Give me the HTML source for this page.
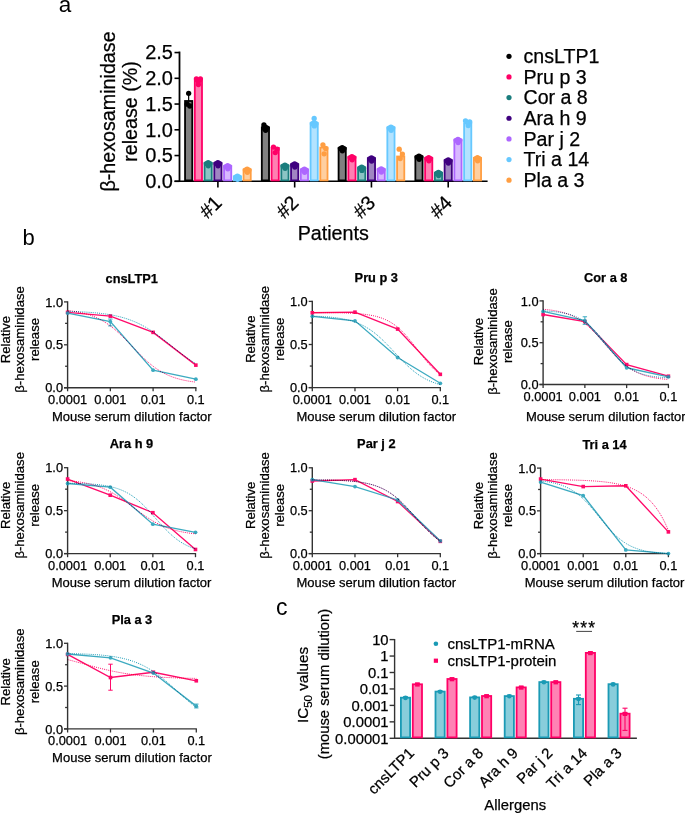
<!DOCTYPE html>
<html><head><meta charset="utf-8"><style>
html,body{margin:0;padding:0;background:#fff;}
svg{display:block;will-change:transform;}
text{font-family:"Liberation Sans", sans-serif;stroke:currentColor;stroke-width:0.25px;}
</style></head><body>
<svg width="685" height="813" viewBox="0 0 685 813">
<rect width="685" height="813" fill="#fff"/>
<text x="58.70" y="12.30" font-size="22.5" text-anchor="start" fill="#000" style="stroke-width:0">a</text>
<text x="22.60" y="245.00" font-size="22" text-anchor="start" fill="#000" style="stroke-width:0">b</text>
<text x="276.00" y="615.10" font-size="23" text-anchor="start" fill="#000" style="stroke-width:0">c</text>
<line x1="179.50" y1="51.55" x2="179.50" y2="182.00" stroke="#000" stroke-width="1.8"/>
<line x1="174.50" y1="181.30" x2="179.50" y2="181.30" stroke="#000" stroke-width="1.6"/>
<text x="173.00" y="188.10" font-size="20" text-anchor="end" fill="#000">0.0</text>
<line x1="174.50" y1="155.55" x2="179.50" y2="155.55" stroke="#000" stroke-width="1.6"/>
<text x="173.00" y="162.35" font-size="20" text-anchor="end" fill="#000">0.5</text>
<line x1="174.50" y1="129.80" x2="179.50" y2="129.80" stroke="#000" stroke-width="1.6"/>
<text x="173.00" y="136.60" font-size="20" text-anchor="end" fill="#000">1.0</text>
<line x1="174.50" y1="104.05" x2="179.50" y2="104.05" stroke="#000" stroke-width="1.6"/>
<text x="173.00" y="110.85" font-size="20" text-anchor="end" fill="#000">1.5</text>
<line x1="174.50" y1="78.30" x2="179.50" y2="78.30" stroke="#000" stroke-width="1.6"/>
<text x="173.00" y="85.10" font-size="20" text-anchor="end" fill="#000">2.0</text>
<line x1="174.50" y1="52.55" x2="179.50" y2="52.55" stroke="#000" stroke-width="1.6"/>
<text x="173.00" y="59.35" font-size="20" text-anchor="end" fill="#000">2.5</text>
<line x1="174.50" y1="181.30" x2="487.60" y2="181.30" stroke="#000" stroke-width="1.5"/>
<line x1="217.90" y1="181.30" x2="217.90" y2="187.50" stroke="#000" stroke-width="1.6"/>
<line x1="294.67" y1="181.30" x2="294.67" y2="187.50" stroke="#000" stroke-width="1.6"/>
<line x1="371.44" y1="181.30" x2="371.44" y2="187.50" stroke="#000" stroke-width="1.6"/>
<line x1="448.21" y1="181.30" x2="448.21" y2="187.50" stroke="#000" stroke-width="1.6"/>
<text x="0.00" y="0.00" transform="translate(114.80,111.50) rotate(-90)" font-size="19.7" text-anchor="middle" fill="#000">β-hexosaminidase</text>
<text x="0.00" y="0.00" transform="translate(136.60,111.50) rotate(-90)" font-size="19.7" text-anchor="middle" fill="#000">release (%)</text>
<text x="0.00" y="0.00" transform="translate(222.90,204.00) rotate(-45)" font-size="19.7" text-anchor="end" fill="#000">#1</text>
<text x="0.00" y="0.00" transform="translate(299.67,204.00) rotate(-45)" font-size="19.7" text-anchor="end" fill="#000">#2</text>
<text x="0.00" y="0.00" transform="translate(376.44,204.00) rotate(-45)" font-size="19.7" text-anchor="end" fill="#000">#3</text>
<text x="0.00" y="0.00" transform="translate(453.21,204.00) rotate(-45)" font-size="19.7" text-anchor="end" fill="#000">#4</text>
<text x="333.20" y="240.00" font-size="19.7" text-anchor="middle" fill="#000">Patients</text>
<rect x="185.05" y="101.00" width="7.20" height="79.40" fill="#808080" stroke="#000000" stroke-width="1.8"/>
<circle cx="187.15" cy="104.20" r="2.65" fill="#000000"/>
<circle cx="189.85" cy="106.00" r="2.65" fill="#000000"/>
<line x1="188.65" y1="93.30" x2="188.65" y2="101.00" stroke="#000000" stroke-width="1.2"/>
<circle cx="188.65" cy="93.30" r="2.65" fill="#000000"/>
<rect x="194.80" y="81.00" width="7.20" height="99.40" fill="#FF80B2" stroke="#FF0066" stroke-width="1.8"/>
<circle cx="196.40" cy="79.00" r="2.65" fill="#FF0066"/>
<circle cx="200.40" cy="79.00" r="2.65" fill="#FF0066"/>
<circle cx="198.40" cy="84.60" r="2.65" fill="#FF0066"/>
<circle cx="198.40" cy="81.50" r="2.65" fill="#FF0066"/>
<rect x="204.55" y="163.00" width="7.20" height="17.40" fill="#8CC4C4" stroke="#1A7D7D" stroke-width="1.8"/>
<circle cx="206.40" cy="163.60" r="2.65" fill="#1A7D7D"/>
<circle cx="209.90" cy="163.60" r="2.65" fill="#1A7D7D"/>
<circle cx="208.15" cy="162.60" r="2.65" fill="#1A7D7D"/>
<circle cx="208.35" cy="165.80" r="2.65" fill="#1A7D7D"/>
<rect x="214.30" y="163.00" width="7.20" height="17.40" fill="#A086C2" stroke="#3F007F" stroke-width="1.8"/>
<circle cx="216.15" cy="163.60" r="2.65" fill="#3F007F"/>
<circle cx="219.65" cy="163.60" r="2.65" fill="#3F007F"/>
<circle cx="217.90" cy="162.60" r="2.65" fill="#3F007F"/>
<circle cx="218.10" cy="165.80" r="2.65" fill="#3F007F"/>
<rect x="224.05" y="166.00" width="7.20" height="14.40" fill="#D8B8FF" stroke="#AD66FF" stroke-width="1.8"/>
<circle cx="225.90" cy="166.60" r="2.65" fill="#AD66FF"/>
<circle cx="229.40" cy="166.60" r="2.65" fill="#AD66FF"/>
<circle cx="227.65" cy="165.60" r="2.65" fill="#AD66FF"/>
<circle cx="227.85" cy="168.80" r="2.65" fill="#AD66FF"/>
<rect x="233.80" y="176.50" width="7.20" height="3.90" fill="#B3E3FF" stroke="#66C8FF" stroke-width="1.8"/>
<circle cx="235.65" cy="177.10" r="2.65" fill="#66C8FF"/>
<circle cx="239.15" cy="177.10" r="2.65" fill="#66C8FF"/>
<circle cx="237.40" cy="176.10" r="2.65" fill="#66C8FF"/>
<circle cx="237.60" cy="179.30" r="2.65" fill="#66C8FF"/>
<rect x="243.55" y="169.50" width="7.20" height="10.90" fill="#FFCFA0" stroke="#FF9E42" stroke-width="1.8"/>
<circle cx="245.40" cy="170.10" r="2.65" fill="#FF9E42"/>
<circle cx="248.90" cy="170.10" r="2.65" fill="#FF9E42"/>
<circle cx="247.15" cy="169.10" r="2.65" fill="#FF9E42"/>
<circle cx="247.35" cy="172.30" r="2.65" fill="#FF9E42"/>
<rect x="261.82" y="127.50" width="7.20" height="52.90" fill="#808080" stroke="#000000" stroke-width="1.8"/>
<circle cx="263.67" cy="128.10" r="2.65" fill="#000000"/>
<circle cx="267.17" cy="128.10" r="2.65" fill="#000000"/>
<circle cx="265.42" cy="127.10" r="2.65" fill="#000000"/>
<circle cx="265.62" cy="130.30" r="2.65" fill="#000000"/>
<line x1="265.42" y1="124.90" x2="265.42" y2="127.50" stroke="#000000" stroke-width="1.2"/>
<circle cx="263.92" cy="124.90" r="2.65" fill="#000000"/>
<rect x="271.57" y="148.00" width="7.20" height="32.40" fill="#FF80B2" stroke="#FF0066" stroke-width="1.8"/>
<circle cx="273.47" cy="147.10" r="2.65" fill="#FF0066"/>
<circle cx="277.07" cy="149.10" r="2.65" fill="#FF0066"/>
<circle cx="275.27" cy="152.60" r="2.65" fill="#FF0066"/>
<rect x="281.32" y="165.50" width="7.20" height="14.90" fill="#8CC4C4" stroke="#1A7D7D" stroke-width="1.8"/>
<circle cx="283.17" cy="166.10" r="2.65" fill="#1A7D7D"/>
<circle cx="286.67" cy="166.10" r="2.65" fill="#1A7D7D"/>
<circle cx="284.92" cy="165.10" r="2.65" fill="#1A7D7D"/>
<circle cx="285.12" cy="168.30" r="2.65" fill="#1A7D7D"/>
<rect x="291.07" y="164.30" width="7.20" height="16.10" fill="#A086C2" stroke="#3F007F" stroke-width="1.8"/>
<circle cx="292.92" cy="164.90" r="2.65" fill="#3F007F"/>
<circle cx="296.42" cy="164.90" r="2.65" fill="#3F007F"/>
<circle cx="294.67" cy="163.90" r="2.65" fill="#3F007F"/>
<circle cx="294.87" cy="167.10" r="2.65" fill="#3F007F"/>
<rect x="300.82" y="169.50" width="7.20" height="10.90" fill="#D8B8FF" stroke="#AD66FF" stroke-width="1.8"/>
<circle cx="302.67" cy="170.10" r="2.65" fill="#AD66FF"/>
<circle cx="306.17" cy="170.10" r="2.65" fill="#AD66FF"/>
<circle cx="304.42" cy="169.10" r="2.65" fill="#AD66FF"/>
<circle cx="304.62" cy="172.30" r="2.65" fill="#AD66FF"/>
<rect x="310.57" y="123.10" width="7.20" height="57.30" fill="#B3E3FF" stroke="#66C8FF" stroke-width="1.8"/>
<circle cx="312.42" cy="123.70" r="2.65" fill="#66C8FF"/>
<circle cx="315.92" cy="123.70" r="2.65" fill="#66C8FF"/>
<circle cx="314.17" cy="122.70" r="2.65" fill="#66C8FF"/>
<circle cx="314.37" cy="125.90" r="2.65" fill="#66C8FF"/>
<line x1="314.17" y1="118.40" x2="314.17" y2="123.10" stroke="#66C8FF" stroke-width="1.2"/>
<circle cx="314.17" cy="118.40" r="2.65" fill="#66C8FF"/>
<rect x="320.32" y="147.60" width="7.20" height="32.80" fill="#FFCFA0" stroke="#FF9E42" stroke-width="1.8"/>
<circle cx="325.72" cy="148.50" r="2.65" fill="#FF9E42"/>
<circle cx="324.12" cy="153.80" r="2.65" fill="#FF9E42"/>
<line x1="323.92" y1="144.80" x2="323.92" y2="147.60" stroke="#FF9E42" stroke-width="1.2"/>
<circle cx="322.92" cy="144.80" r="2.65" fill="#FF9E42"/>
<rect x="338.59" y="148.00" width="7.20" height="32.40" fill="#808080" stroke="#000000" stroke-width="1.8"/>
<circle cx="340.44" cy="148.60" r="2.65" fill="#000000"/>
<circle cx="343.94" cy="148.60" r="2.65" fill="#000000"/>
<circle cx="342.19" cy="147.60" r="2.65" fill="#000000"/>
<circle cx="342.39" cy="150.80" r="2.65" fill="#000000"/>
<rect x="348.34" y="157.00" width="7.20" height="23.40" fill="#FF80B2" stroke="#FF0066" stroke-width="1.8"/>
<circle cx="350.19" cy="157.60" r="2.65" fill="#FF0066"/>
<circle cx="353.69" cy="157.60" r="2.65" fill="#FF0066"/>
<circle cx="351.94" cy="156.60" r="2.65" fill="#FF0066"/>
<circle cx="352.14" cy="159.80" r="2.65" fill="#FF0066"/>
<rect x="358.09" y="167.60" width="7.20" height="12.80" fill="#8CC4C4" stroke="#1A7D7D" stroke-width="1.8"/>
<circle cx="359.94" cy="168.20" r="2.65" fill="#1A7D7D"/>
<circle cx="363.44" cy="168.20" r="2.65" fill="#1A7D7D"/>
<circle cx="361.69" cy="167.20" r="2.65" fill="#1A7D7D"/>
<circle cx="361.89" cy="170.40" r="2.65" fill="#1A7D7D"/>
<rect x="367.84" y="158.30" width="7.20" height="22.10" fill="#A086C2" stroke="#3F007F" stroke-width="1.8"/>
<circle cx="369.69" cy="158.90" r="2.65" fill="#3F007F"/>
<circle cx="373.19" cy="158.90" r="2.65" fill="#3F007F"/>
<circle cx="371.44" cy="157.90" r="2.65" fill="#3F007F"/>
<circle cx="371.64" cy="161.10" r="2.65" fill="#3F007F"/>
<rect x="377.59" y="169.20" width="7.20" height="11.20" fill="#D8B8FF" stroke="#AD66FF" stroke-width="1.8"/>
<circle cx="379.44" cy="169.80" r="2.65" fill="#AD66FF"/>
<circle cx="382.94" cy="169.80" r="2.65" fill="#AD66FF"/>
<circle cx="381.19" cy="168.80" r="2.65" fill="#AD66FF"/>
<circle cx="381.39" cy="172.00" r="2.65" fill="#AD66FF"/>
<rect x="387.34" y="127.50" width="7.20" height="52.90" fill="#B3E3FF" stroke="#66C8FF" stroke-width="1.8"/>
<circle cx="389.19" cy="128.10" r="2.65" fill="#66C8FF"/>
<circle cx="392.69" cy="128.10" r="2.65" fill="#66C8FF"/>
<circle cx="390.94" cy="127.10" r="2.65" fill="#66C8FF"/>
<circle cx="391.14" cy="130.30" r="2.65" fill="#66C8FF"/>
<rect x="397.09" y="156.50" width="7.20" height="23.90" fill="#FFCFA0" stroke="#FF9E42" stroke-width="1.8"/>
<circle cx="402.39" cy="154.10" r="2.65" fill="#FF9E42"/>
<circle cx="400.19" cy="158.50" r="2.65" fill="#FF9E42"/>
<line x1="400.69" y1="149.20" x2="400.69" y2="156.50" stroke="#FF9E42" stroke-width="1.2"/>
<circle cx="399.19" cy="149.20" r="2.65" fill="#FF9E42"/>
<rect x="415.36" y="156.50" width="7.20" height="23.90" fill="#808080" stroke="#000000" stroke-width="1.8"/>
<circle cx="417.21" cy="157.10" r="2.65" fill="#000000"/>
<circle cx="420.71" cy="157.10" r="2.65" fill="#000000"/>
<circle cx="418.96" cy="156.10" r="2.65" fill="#000000"/>
<circle cx="419.16" cy="159.30" r="2.65" fill="#000000"/>
<rect x="425.11" y="158.00" width="7.20" height="22.40" fill="#FF80B2" stroke="#FF0066" stroke-width="1.8"/>
<circle cx="426.96" cy="158.60" r="2.65" fill="#FF0066"/>
<circle cx="430.46" cy="158.60" r="2.65" fill="#FF0066"/>
<circle cx="428.71" cy="157.60" r="2.65" fill="#FF0066"/>
<circle cx="428.91" cy="160.80" r="2.65" fill="#FF0066"/>
<rect x="434.86" y="172.80" width="7.20" height="7.60" fill="#8CC4C4" stroke="#1A7D7D" stroke-width="1.8"/>
<circle cx="436.71" cy="173.40" r="2.65" fill="#1A7D7D"/>
<circle cx="440.21" cy="173.40" r="2.65" fill="#1A7D7D"/>
<circle cx="438.46" cy="172.40" r="2.65" fill="#1A7D7D"/>
<circle cx="438.66" cy="175.60" r="2.65" fill="#1A7D7D"/>
<rect x="444.61" y="160.20" width="7.20" height="20.20" fill="#A086C2" stroke="#3F007F" stroke-width="1.8"/>
<circle cx="446.46" cy="160.80" r="2.65" fill="#3F007F"/>
<circle cx="449.96" cy="160.80" r="2.65" fill="#3F007F"/>
<circle cx="448.21" cy="159.80" r="2.65" fill="#3F007F"/>
<circle cx="448.41" cy="163.00" r="2.65" fill="#3F007F"/>
<rect x="454.36" y="139.70" width="7.20" height="40.70" fill="#D8B8FF" stroke="#AD66FF" stroke-width="1.8"/>
<circle cx="456.21" cy="140.30" r="2.65" fill="#AD66FF"/>
<circle cx="459.71" cy="140.30" r="2.65" fill="#AD66FF"/>
<circle cx="457.96" cy="139.30" r="2.65" fill="#AD66FF"/>
<circle cx="458.16" cy="142.50" r="2.65" fill="#AD66FF"/>
<rect x="464.11" y="123.50" width="7.20" height="56.90" fill="#B3E3FF" stroke="#66C8FF" stroke-width="1.8"/>
<circle cx="465.51" cy="120.80" r="2.65" fill="#66C8FF"/>
<circle cx="469.71" cy="121.90" r="2.65" fill="#66C8FF"/>
<circle cx="468.21" cy="125.50" r="2.65" fill="#66C8FF"/>
<rect x="473.86" y="158.00" width="7.20" height="22.40" fill="#FFCFA0" stroke="#FF9E42" stroke-width="1.8"/>
<circle cx="475.71" cy="158.60" r="2.65" fill="#FF9E42"/>
<circle cx="479.21" cy="158.60" r="2.65" fill="#FF9E42"/>
<circle cx="477.46" cy="157.60" r="2.65" fill="#FF9E42"/>
<circle cx="477.66" cy="160.80" r="2.65" fill="#FF9E42"/>
<circle cx="509" cy="56.30" r="2.6" fill="#000000"/>
<text x="523.50" y="62.90" font-size="19.6" text-anchor="start" fill="#000">cnsLTP1</text>
<circle cx="509" cy="76.95" r="2.6" fill="#FF0066"/>
<text x="523.50" y="83.55" font-size="19.6" text-anchor="start" fill="#000">Pru p 3</text>
<circle cx="509" cy="97.60" r="2.6" fill="#1A7D7D"/>
<text x="523.50" y="104.20" font-size="19.6" text-anchor="start" fill="#000">Cor a 8</text>
<circle cx="509" cy="118.25" r="2.6" fill="#3F007F"/>
<text x="523.50" y="124.85" font-size="19.6" text-anchor="start" fill="#000">Ara h 9</text>
<circle cx="509" cy="138.90" r="2.6" fill="#AD66FF"/>
<text x="523.50" y="145.50" font-size="19.6" text-anchor="start" fill="#000">Par j 2</text>
<circle cx="509" cy="159.55" r="2.6" fill="#66C8FF"/>
<text x="523.50" y="166.15" font-size="19.6" text-anchor="start" fill="#000">Tri a 14</text>
<circle cx="509" cy="180.20" r="2.6" fill="#FF9E42"/>
<text x="523.50" y="186.80" font-size="19.6" text-anchor="start" fill="#000">Pla a 3</text>
<text x="131.72" y="282.50" font-size="12.8" text-anchor="middle" font-weight="bold" fill="#000">cnsLTP1</text>
<line x1="67.60" y1="301.30" x2="67.60" y2="388.30" stroke="#333" stroke-width="1.4"/>
<line x1="64.00" y1="387.70" x2="196.45" y2="387.70" stroke="#333" stroke-width="1.4"/>
<line x1="64.00" y1="387.70" x2="67.60" y2="387.70" stroke="#333" stroke-width="1.3"/>
<line x1="65.10" y1="366.25" x2="67.60" y2="366.25" stroke="#333" stroke-width="1.3"/>
<line x1="64.00" y1="344.80" x2="67.60" y2="344.80" stroke="#333" stroke-width="1.3"/>
<line x1="65.10" y1="323.35" x2="67.60" y2="323.35" stroke="#333" stroke-width="1.3"/>
<line x1="64.00" y1="301.90" x2="67.60" y2="301.90" stroke="#333" stroke-width="1.3"/>
<text x="63.00" y="392.30" font-size="12.8" text-anchor="end" fill="#000">0.0</text>
<text x="63.00" y="349.40" font-size="12.8" text-anchor="end" fill="#000">0.5</text>
<text x="63.00" y="306.50" font-size="12.8" text-anchor="end" fill="#000">1.0</text>
<line x1="67.60" y1="387.70" x2="67.60" y2="391.30" stroke="#333" stroke-width="1.3"/>
<text x="67.60" y="403.90" font-size="12.8" text-anchor="middle" fill="#000">0.0001</text>
<line x1="110.35" y1="387.70" x2="110.35" y2="391.30" stroke="#333" stroke-width="1.3"/>
<text x="110.35" y="403.90" font-size="12.8" text-anchor="middle" fill="#000">0.001</text>
<line x1="153.10" y1="387.70" x2="153.10" y2="391.30" stroke="#333" stroke-width="1.3"/>
<text x="153.10" y="403.90" font-size="12.8" text-anchor="middle" fill="#000">0.01</text>
<line x1="195.85" y1="387.70" x2="195.85" y2="391.30" stroke="#333" stroke-width="1.3"/>
<text x="195.85" y="403.90" font-size="12.8" text-anchor="middle" fill="#000">0.1</text>
<text x="131.72" y="421.00" font-size="13.0" text-anchor="middle" fill="#000">Mouse serum dilution factor</text>
<text x="0.00" y="0.00" transform="translate(10.40,339.50) rotate(-90)" font-size="13.1" text-anchor="middle" fill="#000">Relative</text>
<text x="0.00" y="0.00" transform="translate(24.40,339.50) rotate(-90)" font-size="13.1" text-anchor="middle" fill="#000">β-hexosaminidase</text>
<text x="0.00" y="0.00" transform="translate(39.00,339.50) rotate(-90)" font-size="13.1" text-anchor="middle" fill="#000">release</text>
<g opacity="1.0">
<polyline points="67.60,312.37 110.35,316.14 153.10,332.36 195.85,365.13" fill="none" stroke="#FF0A6A" stroke-width="1.35"/>
<rect x="65.80" y="310.57" width="3.6" height="3.6" fill="#FF0A6A"/>
<rect x="108.55" y="314.34" width="3.6" height="3.6" fill="#FF0A6A"/>
<rect x="151.30" y="330.56" width="3.6" height="3.6" fill="#FF0A6A"/>
<rect x="194.05" y="363.33" width="3.6" height="3.6" fill="#FF0A6A"/>
</g>
<g opacity="0.85">
<polyline points="67.60,313.05 110.35,321.63 153.10,370.20 195.85,379.21" fill="none" stroke="#1B9CB6" stroke-width="1.35"/>
<line x1="110.35" y1="325.92" x2="110.35" y2="319.06" stroke="#1B9CB6" stroke-width="1"/>
<line x1="108.15" y1="325.92" x2="112.55" y2="325.92" stroke="#1B9CB6" stroke-width="1"/>
<line x1="108.15" y1="319.06" x2="112.55" y2="319.06" stroke="#1B9CB6" stroke-width="1"/>
<circle cx="67.60" cy="313.05" r="1.9" fill="#1B9CB6"/>
<circle cx="110.35" cy="321.63" r="1.9" fill="#1B9CB6"/>
<circle cx="153.10" cy="370.20" r="1.9" fill="#1B9CB6"/>
<circle cx="195.85" cy="379.21" r="1.9" fill="#1B9CB6"/>
</g>
<polyline style="mix-blend-mode:multiply" points="67.60,310.48 69.22,310.67 70.85,310.88 72.47,311.10 74.09,311.34 75.72,311.61 77.34,311.89 78.96,312.21 80.59,312.54 82.21,312.91 83.83,313.31 85.46,313.74 87.08,314.20 88.70,314.70 90.33,315.24 91.95,315.82 93.57,316.44 95.20,317.11 96.82,317.83 98.44,318.60 100.07,319.42 101.69,320.29 103.32,321.22 104.94,322.21 106.56,323.26 108.19,324.36 109.81,325.52 111.43,326.75 113.06,328.03 114.68,329.36 116.30,330.75 117.93,332.20 119.55,333.69 121.17,335.23 122.80,336.81 124.42,338.43 126.04,340.07 127.67,341.74 129.29,343.43 130.91,345.13 132.54,346.84 134.16,348.54 135.78,350.24 137.41,351.92 139.03,353.58 140.65,355.21 142.28,356.80 143.90,358.36 145.52,359.87 147.15,361.34 148.77,362.75 150.39,364.11 152.02,365.41 153.64,366.66 155.26,367.85 156.89,368.97 158.51,370.04 160.13,371.06 161.76,372.01 163.38,372.91 165.01,373.75 166.63,374.54 168.25,375.28 169.88,375.96 171.50,376.61 173.12,377.21 174.75,377.76 176.37,378.28 177.99,378.76 179.62,379.20 181.24,379.61 182.86,379.99 184.49,380.34 186.11,380.66 187.73,380.96 189.36,381.23 190.98,381.48 192.60,381.71 194.23,381.93 195.85,382.12" fill="none" stroke="#FF0A6A" stroke-width="1.0" stroke-dasharray="1 1.1"/>
<polyline style="mix-blend-mode:multiply" points="67.60,311.34 69.22,311.38 70.85,311.43 72.47,311.49 74.09,311.54 75.72,311.60 77.34,311.67 78.96,311.74 80.59,311.82 82.21,311.90 83.83,311.99 85.46,312.08 87.08,312.18 88.70,312.29 90.33,312.41 91.95,312.53 93.57,312.67 95.20,312.81 96.82,312.97 98.44,313.13 100.07,313.31 101.69,313.50 103.32,313.71 104.94,313.92 106.56,314.16 108.19,314.41 109.81,314.68 111.43,314.96 113.06,315.27 114.68,315.59 116.30,315.94 117.93,316.31 119.55,316.70 121.17,317.12 122.80,317.57 124.42,318.04 126.04,318.54 127.67,319.07 129.29,319.64 130.91,320.23 132.54,320.86 134.16,321.52 135.78,322.22 137.41,322.95 139.03,323.72 140.65,324.53 142.28,325.37 143.90,326.25 145.52,327.17 147.15,328.12 148.77,329.11 150.39,330.14 152.02,331.20 153.64,332.30 155.26,333.43 156.89,334.58 158.51,335.77 160.13,336.98 161.76,338.21 163.38,339.47 165.01,340.74 166.63,342.02 168.25,343.32 169.88,344.62 171.50,345.93 173.12,347.23 174.75,348.53 176.37,349.83 177.99,351.11 179.62,352.38 181.24,353.63 182.86,354.86 184.49,356.07 186.11,357.25 187.73,358.40 189.36,359.52 190.98,360.61 192.60,361.67 194.23,362.69 195.85,363.68" fill="none" stroke="#1B9CB6" stroke-width="1.0" stroke-dasharray="1 1.1"/>
<text x="376.31" y="282.00" font-size="12.8" text-anchor="middle" font-weight="bold" fill="#000">Pru p 3</text>
<line x1="312.30" y1="300.80" x2="312.30" y2="388.20" stroke="#333" stroke-width="1.4"/>
<line x1="308.70" y1="387.60" x2="440.91" y2="387.60" stroke="#333" stroke-width="1.4"/>
<line x1="308.70" y1="387.60" x2="312.30" y2="387.60" stroke="#333" stroke-width="1.3"/>
<line x1="309.80" y1="366.05" x2="312.30" y2="366.05" stroke="#333" stroke-width="1.3"/>
<line x1="308.70" y1="344.50" x2="312.30" y2="344.50" stroke="#333" stroke-width="1.3"/>
<line x1="309.80" y1="322.95" x2="312.30" y2="322.95" stroke="#333" stroke-width="1.3"/>
<line x1="308.70" y1="301.40" x2="312.30" y2="301.40" stroke="#333" stroke-width="1.3"/>
<text x="307.70" y="392.20" font-size="12.8" text-anchor="end" fill="#000">0.0</text>
<text x="307.70" y="349.10" font-size="12.8" text-anchor="end" fill="#000">0.5</text>
<text x="307.70" y="306.00" font-size="12.8" text-anchor="end" fill="#000">1.0</text>
<line x1="312.30" y1="387.60" x2="312.30" y2="391.20" stroke="#333" stroke-width="1.3"/>
<text x="312.30" y="403.80" font-size="12.8" text-anchor="middle" fill="#000">0.0001</text>
<line x1="354.97" y1="387.60" x2="354.97" y2="391.20" stroke="#333" stroke-width="1.3"/>
<text x="354.97" y="403.80" font-size="12.8" text-anchor="middle" fill="#000">0.001</text>
<line x1="397.64" y1="387.60" x2="397.64" y2="391.20" stroke="#333" stroke-width="1.3"/>
<text x="397.64" y="403.80" font-size="12.8" text-anchor="middle" fill="#000">0.01</text>
<line x1="440.31" y1="387.60" x2="440.31" y2="391.20" stroke="#333" stroke-width="1.3"/>
<text x="440.31" y="403.80" font-size="12.8" text-anchor="middle" fill="#000">0.1</text>
<text x="376.31" y="420.90" font-size="13.0" text-anchor="middle" fill="#000">Mouse serum dilution factor</text>
<text x="0.00" y="0.00" transform="translate(255.10,339.20) rotate(-90)" font-size="13.1" text-anchor="middle" fill="#000">Relative</text>
<text x="0.00" y="0.00" transform="translate(269.10,339.20) rotate(-90)" font-size="13.1" text-anchor="middle" fill="#000">β-hexosaminidase</text>
<text x="0.00" y="0.00" transform="translate(283.70,339.20) rotate(-90)" font-size="13.1" text-anchor="middle" fill="#000">release</text>
<g opacity="1.0">
<polyline points="312.30,312.78 354.97,312.17 397.64,329.07 440.31,374.33" fill="none" stroke="#FF0A6A" stroke-width="1.35"/>
<rect x="310.50" y="310.98" width="3.6" height="3.6" fill="#FF0A6A"/>
<rect x="353.17" y="310.37" width="3.6" height="3.6" fill="#FF0A6A"/>
<rect x="395.84" y="327.27" width="3.6" height="3.6" fill="#FF0A6A"/>
<rect x="438.51" y="372.53" width="3.6" height="3.6" fill="#FF0A6A"/>
</g>
<g opacity="0.85">
<polyline points="312.30,316.31 354.97,320.79 397.64,357.52 440.31,383.29" fill="none" stroke="#1B9CB6" stroke-width="1.35"/>
<circle cx="312.30" cy="316.31" r="1.9" fill="#1B9CB6"/>
<circle cx="354.97" cy="320.79" r="1.9" fill="#1B9CB6"/>
<circle cx="397.64" cy="357.52" r="1.9" fill="#1B9CB6"/>
<circle cx="440.31" cy="383.29" r="1.9" fill="#1B9CB6"/>
</g>
<polyline style="mix-blend-mode:multiply" points="312.30,312.61 313.92,312.61 315.54,312.62 317.16,312.62 318.78,312.63 320.40,312.64 322.02,312.65 323.64,312.66 325.26,312.67 326.88,312.69 328.50,312.70 330.12,312.72 331.74,312.74 333.36,312.76 334.99,312.79 336.61,312.81 338.23,312.84 339.85,312.88 341.47,312.91 343.09,312.96 344.71,313.00 346.33,313.06 347.95,313.12 349.57,313.18 351.19,313.26 352.81,313.34 354.43,313.43 356.05,313.54 357.67,313.65 359.29,313.78 360.91,313.93 362.53,314.09 364.15,314.27 365.77,314.47 367.39,314.69 369.01,314.94 370.63,315.22 372.25,315.52 373.87,315.87 375.49,316.24 377.12,316.66 378.74,317.13 380.36,317.64 381.98,318.20 383.60,318.82 385.22,319.51 386.84,320.26 388.46,321.08 390.08,321.97 391.70,322.95 393.32,324.01 394.94,325.15 396.56,326.39 398.18,327.71 399.80,329.13 401.42,330.64 403.04,332.25 404.66,333.94 406.28,335.71 407.90,337.57 409.52,339.49 411.14,341.48 412.76,343.52 414.38,345.60 416.00,347.71 417.62,349.84 419.25,351.96 420.87,354.07 422.49,356.16 424.11,358.21 425.73,360.20 427.35,362.14 428.97,364.01 430.59,365.80 432.21,367.50 433.83,369.12 435.45,370.65 437.07,372.08 438.69,373.42 440.31,374.67" fill="none" stroke="#FF0A6A" stroke-width="1.0" stroke-dasharray="1 1.1"/>
<polyline style="mix-blend-mode:multiply" points="312.30,316.05 313.92,316.11 315.54,316.18 317.16,316.25 318.78,316.33 320.40,316.41 322.02,316.50 323.64,316.61 325.26,316.72 326.88,316.84 328.50,316.98 330.12,317.12 331.74,317.28 333.36,317.46 334.99,317.65 336.61,317.86 338.23,318.10 339.85,318.35 341.47,318.62 343.09,318.92 344.71,319.25 346.33,319.60 347.95,319.99 349.57,320.41 351.19,320.87 352.81,321.36 354.43,321.90 356.05,322.48 357.67,323.11 359.29,323.78 360.91,324.51 362.53,325.29 364.15,326.12 365.77,327.02 367.39,327.97 369.01,328.99 370.63,330.07 372.25,331.21 373.87,332.42 375.49,333.69 377.12,335.02 378.74,336.41 380.36,337.87 381.98,339.37 383.60,340.93 385.22,342.54 386.84,344.18 388.46,345.86 390.08,347.57 391.70,349.30 393.32,351.05 394.94,352.80 396.56,354.55 398.18,356.28 399.80,358.01 401.42,359.70 403.04,361.37 404.66,363.00 406.28,364.58 407.90,366.12 409.52,367.60 411.14,369.02 412.76,370.39 414.38,371.70 416.00,372.94 417.62,374.12 419.25,375.23 420.87,376.28 422.49,377.27 424.11,378.20 425.73,379.06 427.35,379.87 428.97,380.63 430.59,381.33 432.21,381.98 433.83,382.59 435.45,383.15 437.07,383.67 438.69,384.14 440.31,384.58" fill="none" stroke="#1B9CB6" stroke-width="1.0" stroke-dasharray="1 1.1"/>
<text x="605.76" y="281.50" font-size="12.8" text-anchor="middle" font-weight="bold" fill="#000">Cor a 8</text>
<line x1="543.10" y1="300.30" x2="543.10" y2="385.10" stroke="#333" stroke-width="1.4"/>
<line x1="539.50" y1="384.50" x2="669.01" y2="384.50" stroke="#333" stroke-width="1.4"/>
<line x1="539.50" y1="384.50" x2="543.10" y2="384.50" stroke="#333" stroke-width="1.3"/>
<line x1="540.60" y1="363.60" x2="543.10" y2="363.60" stroke="#333" stroke-width="1.3"/>
<line x1="539.50" y1="342.70" x2="543.10" y2="342.70" stroke="#333" stroke-width="1.3"/>
<line x1="540.60" y1="321.80" x2="543.10" y2="321.80" stroke="#333" stroke-width="1.3"/>
<line x1="539.50" y1="300.90" x2="543.10" y2="300.90" stroke="#333" stroke-width="1.3"/>
<text x="538.50" y="389.10" font-size="12.8" text-anchor="end" fill="#000">0.0</text>
<text x="538.50" y="347.30" font-size="12.8" text-anchor="end" fill="#000">0.5</text>
<text x="538.50" y="305.50" font-size="12.8" text-anchor="end" fill="#000">1.0</text>
<line x1="543.10" y1="384.50" x2="543.10" y2="388.10" stroke="#333" stroke-width="1.3"/>
<text x="543.10" y="400.70" font-size="12.8" text-anchor="middle" fill="#000">0.0001</text>
<line x1="584.87" y1="384.50" x2="584.87" y2="388.10" stroke="#333" stroke-width="1.3"/>
<text x="584.87" y="400.70" font-size="12.8" text-anchor="middle" fill="#000">0.001</text>
<line x1="626.64" y1="384.50" x2="626.64" y2="388.10" stroke="#333" stroke-width="1.3"/>
<text x="626.64" y="400.70" font-size="12.8" text-anchor="middle" fill="#000">0.01</text>
<line x1="668.41" y1="384.50" x2="668.41" y2="388.10" stroke="#333" stroke-width="1.3"/>
<text x="668.41" y="400.70" font-size="12.8" text-anchor="middle" fill="#000">0.1</text>
<text x="605.76" y="421.30" font-size="13.0" text-anchor="middle" fill="#000">Mouse serum dilution factor</text>
<text x="0.00" y="0.00" transform="translate(482.90,341.60) rotate(-90)" font-size="13.1" text-anchor="middle" fill="#000">Relative</text>
<text x="0.00" y="0.00" transform="translate(496.90,341.60) rotate(-90)" font-size="13.1" text-anchor="middle" fill="#000">β-hexosaminidase</text>
<text x="0.00" y="0.00" transform="translate(511.50,341.60) rotate(-90)" font-size="13.1" text-anchor="middle" fill="#000">release</text>
<g opacity="1.0">
<polyline points="543.10,314.53 584.87,321.63 626.64,364.60 668.41,376.22" fill="none" stroke="#FF0A6A" stroke-width="1.35"/>
<rect x="541.30" y="312.73" width="3.6" height="3.6" fill="#FF0A6A"/>
<rect x="583.07" y="319.83" width="3.6" height="3.6" fill="#FF0A6A"/>
<rect x="624.84" y="362.80" width="3.6" height="3.6" fill="#FF0A6A"/>
<rect x="666.61" y="374.42" width="3.6" height="3.6" fill="#FF0A6A"/>
</g>
<g opacity="0.85">
<polyline points="543.10,311.43 584.87,320.63 626.64,367.78 668.41,376.81" fill="none" stroke="#1B9CB6" stroke-width="1.35"/>
<line x1="584.87" y1="324.31" x2="584.87" y2="316.78" stroke="#1B9CB6" stroke-width="1"/>
<line x1="582.67" y1="324.31" x2="587.07" y2="324.31" stroke="#1B9CB6" stroke-width="1"/>
<line x1="582.67" y1="316.78" x2="587.07" y2="316.78" stroke="#1B9CB6" stroke-width="1"/>
<circle cx="543.10" cy="311.43" r="1.9" fill="#1B9CB6"/>
<circle cx="584.87" cy="320.63" r="1.9" fill="#1B9CB6"/>
<circle cx="626.64" cy="367.78" r="1.9" fill="#1B9CB6"/>
<circle cx="668.41" cy="376.81" r="1.9" fill="#1B9CB6"/>
</g>
<polyline style="mix-blend-mode:multiply" points="543.10,309.26 544.69,309.40 546.27,309.55 547.86,309.72 549.44,309.91 551.03,310.11 552.62,310.34 554.20,310.59 555.79,310.86 557.38,311.16 558.96,311.49 560.55,311.85 562.13,312.24 563.72,312.68 565.31,313.15 566.89,313.66 568.48,314.23 570.07,314.84 571.65,315.50 573.24,316.22 574.82,317.00 576.41,317.84 578.00,318.75 579.58,319.72 581.17,320.76 582.76,321.87 584.34,323.06 585.93,324.32 587.51,325.65 589.10,327.05 590.69,328.53 592.27,330.06 593.86,331.67 595.44,333.32 597.03,335.04 598.62,336.79 600.20,338.59 601.79,340.41 603.38,342.25 604.96,344.11 606.55,345.96 608.13,347.81 609.72,349.64 611.31,351.44 612.89,353.20 614.48,354.93 616.07,356.60 617.65,358.21 619.24,359.77 620.82,361.26 622.41,362.67 624.00,364.02 625.58,365.30 627.17,366.50 628.75,367.63 630.34,368.69 631.93,369.68 633.51,370.60 635.10,371.46 636.69,372.25 638.27,372.98 639.86,373.66 641.44,374.28 643.03,374.85 644.62,375.38 646.20,375.86 647.79,376.30 649.38,376.71 650.96,377.08 652.55,377.41 654.13,377.72 655.72,378.00 657.31,378.25 658.89,378.48 660.48,378.69 662.07,378.88 663.65,379.06 665.24,379.21 666.82,379.36 668.41,379.48" fill="none" stroke="#FF0A6A" stroke-width="1.0" stroke-dasharray="1 1.1"/>
<polyline style="mix-blend-mode:multiply" points="543.10,310.93 544.69,311.01 546.27,311.09 547.86,311.19 549.44,311.30 551.03,311.42 552.62,311.55 554.20,311.70 555.79,311.87 557.38,312.06 558.96,312.27 560.55,312.51 562.13,312.78 563.72,313.07 565.31,313.40 566.89,313.77 568.48,314.17 570.07,314.62 571.65,315.13 573.24,315.68 574.82,316.29 576.41,316.97 578.00,317.71 579.58,318.52 581.17,319.41 582.76,320.38 584.34,321.43 585.93,322.57 587.51,323.80 589.10,325.12 590.69,326.53 592.27,328.03 593.86,329.62 595.44,331.29 597.03,333.04 598.62,334.85 600.20,336.73 601.79,338.66 603.38,340.63 604.96,342.62 606.55,344.63 608.13,346.64 609.72,348.62 611.31,350.58 612.89,352.50 614.48,354.37 616.07,356.17 617.65,357.90 619.24,359.56 620.82,361.12 622.41,362.60 624.00,363.99 625.58,365.29 627.17,366.50 628.75,367.62 630.34,368.65 631.93,369.60 633.51,370.48 635.10,371.27 636.69,372.00 638.27,372.66 639.86,373.25 641.44,373.80 643.03,374.28 644.62,374.73 646.20,375.12 647.79,375.48 649.38,375.80 650.96,376.09 652.55,376.35 654.13,376.58 655.72,376.78 657.31,376.97 658.89,377.13 660.48,377.28 662.07,377.41 663.65,377.53 665.24,377.64 666.82,377.73 668.41,377.81" fill="none" stroke="#1B9CB6" stroke-width="1.0" stroke-dasharray="1 1.1"/>
<text x="131.55" y="448.30" font-size="12.8" text-anchor="middle" font-weight="bold" fill="#000">Ara h 9</text>
<line x1="67.60" y1="467.10" x2="67.60" y2="554.20" stroke="#333" stroke-width="1.4"/>
<line x1="64.00" y1="553.60" x2="196.09" y2="553.60" stroke="#333" stroke-width="1.4"/>
<line x1="64.00" y1="553.60" x2="67.60" y2="553.60" stroke="#333" stroke-width="1.3"/>
<line x1="65.10" y1="532.12" x2="67.60" y2="532.12" stroke="#333" stroke-width="1.3"/>
<line x1="64.00" y1="510.65" x2="67.60" y2="510.65" stroke="#333" stroke-width="1.3"/>
<line x1="65.10" y1="489.18" x2="67.60" y2="489.18" stroke="#333" stroke-width="1.3"/>
<line x1="64.00" y1="467.70" x2="67.60" y2="467.70" stroke="#333" stroke-width="1.3"/>
<text x="63.00" y="558.20" font-size="12.8" text-anchor="end" fill="#000">0.0</text>
<text x="63.00" y="515.25" font-size="12.8" text-anchor="end" fill="#000">0.5</text>
<text x="63.00" y="472.30" font-size="12.8" text-anchor="end" fill="#000">1.0</text>
<line x1="67.60" y1="553.60" x2="67.60" y2="557.20" stroke="#333" stroke-width="1.3"/>
<text x="67.60" y="569.80" font-size="12.8" text-anchor="middle" fill="#000">0.0001</text>
<line x1="110.23" y1="553.60" x2="110.23" y2="557.20" stroke="#333" stroke-width="1.3"/>
<text x="110.23" y="569.80" font-size="12.8" text-anchor="middle" fill="#000">0.001</text>
<line x1="152.86" y1="553.60" x2="152.86" y2="557.20" stroke="#333" stroke-width="1.3"/>
<text x="152.86" y="569.80" font-size="12.8" text-anchor="middle" fill="#000">0.01</text>
<line x1="195.49" y1="553.60" x2="195.49" y2="557.20" stroke="#333" stroke-width="1.3"/>
<text x="195.49" y="569.80" font-size="12.8" text-anchor="middle" fill="#000">0.1</text>
<text x="131.55" y="586.90" font-size="13.0" text-anchor="middle" fill="#000">Mouse serum dilution factor</text>
<text x="0.00" y="0.00" transform="translate(10.40,505.35) rotate(-90)" font-size="13.1" text-anchor="middle" fill="#000">Relative</text>
<text x="0.00" y="0.00" transform="translate(24.40,505.35) rotate(-90)" font-size="13.1" text-anchor="middle" fill="#000">β-hexosaminidase</text>
<text x="0.00" y="0.00" transform="translate(39.00,505.35) rotate(-90)" font-size="13.1" text-anchor="middle" fill="#000">release</text>
<g opacity="1.0">
<polyline points="67.60,479.04 110.23,495.19 152.86,512.71 195.49,549.48" fill="none" stroke="#FF0A6A" stroke-width="1.35"/>
<rect x="65.80" y="477.24" width="3.6" height="3.6" fill="#FF0A6A"/>
<rect x="108.43" y="493.39" width="3.6" height="3.6" fill="#FF0A6A"/>
<rect x="151.06" y="510.91" width="3.6" height="3.6" fill="#FF0A6A"/>
<rect x="193.69" y="547.68" width="3.6" height="3.6" fill="#FF0A6A"/>
</g>
<g opacity="0.85">
<polyline points="67.60,483.51 110.23,487.20 152.86,524.22 195.49,532.30" fill="none" stroke="#1B9CB6" stroke-width="1.35"/>
<circle cx="67.60" cy="483.51" r="1.9" fill="#1B9CB6"/>
<circle cx="110.23" cy="487.20" r="1.9" fill="#1B9CB6"/>
<circle cx="152.86" cy="524.22" r="1.9" fill="#1B9CB6"/>
<circle cx="195.49" cy="532.30" r="1.9" fill="#1B9CB6"/>
</g>
<polyline style="mix-blend-mode:multiply" points="67.60,480.58 69.22,480.73 70.84,480.89 72.46,481.06 74.08,481.24 75.69,481.44 77.31,481.65 78.93,481.89 80.55,482.14 82.17,482.41 83.79,482.70 85.41,483.02 87.03,483.36 88.65,483.72 90.26,484.12 91.88,484.54 93.50,484.99 95.12,485.47 96.74,485.99 98.36,486.54 99.98,487.13 101.60,487.75 103.21,488.42 104.83,489.12 106.45,489.86 108.07,490.65 109.69,491.47 111.31,492.33 112.93,493.24 114.55,494.18 116.17,495.16 117.78,496.18 119.40,497.24 121.02,498.33 122.64,499.45 124.26,500.59 125.88,501.76 127.50,502.95 129.12,504.16 130.74,505.37 132.35,506.60 133.97,507.83 135.59,509.05 137.21,510.27 138.83,511.48 140.45,512.68 142.07,513.85 143.69,515.00 145.31,516.13 146.92,517.23 148.54,518.29 150.16,519.32 151.78,520.32 153.40,521.27 155.02,522.19 156.64,523.06 158.26,523.90 159.88,524.69 161.49,525.45 163.11,526.16 164.73,526.84 166.35,527.47 167.97,528.07 169.59,528.63 171.21,529.16 172.83,529.65 174.44,530.11 176.06,530.54 177.68,530.94 179.30,531.32 180.92,531.66 182.54,531.98 184.16,532.28 185.78,532.56 187.40,532.82 189.01,533.06 190.63,533.28 192.25,533.48 193.87,533.67 195.49,533.84" fill="none" stroke="#FF0A6A" stroke-width="1.0" stroke-dasharray="1 1.1"/>
<polyline style="mix-blend-mode:multiply" points="67.60,483.16 69.22,483.19 70.84,483.22 72.46,483.25 74.08,483.29 75.69,483.33 77.31,483.38 78.93,483.43 80.55,483.49 82.17,483.55 83.79,483.62 85.41,483.70 87.03,483.78 88.65,483.88 90.26,483.98 91.88,484.09 93.50,484.22 95.12,484.36 96.74,484.52 98.36,484.69 99.98,484.87 101.60,485.08 103.21,485.31 104.83,485.56 106.45,485.84 108.07,486.14 109.69,486.48 111.31,486.85 112.93,487.25 114.55,487.69 116.17,488.17 117.78,488.70 119.40,489.27 121.02,489.90 122.64,490.58 124.26,491.31 125.88,492.11 127.50,492.97 129.12,493.89 130.74,494.89 132.35,495.95 133.97,497.09 135.59,498.30 137.21,499.58 138.83,500.94 140.45,502.36 142.07,503.86 143.69,505.42 145.31,507.04 146.92,508.71 148.54,510.43 150.16,512.20 151.78,513.99 153.40,515.81 155.02,517.64 156.64,519.48 158.26,521.32 159.88,523.13 161.49,524.93 163.11,526.69 164.73,528.41 166.35,530.08 167.97,531.70 169.59,533.25 171.21,534.74 172.83,536.16 174.44,537.51 176.06,538.79 177.68,540.00 179.30,541.13 180.92,542.19 182.54,543.18 184.16,544.10 185.78,544.96 187.40,545.75 189.01,546.48 190.63,547.16 192.25,547.78 193.87,548.35 195.49,548.88" fill="none" stroke="#1B9CB6" stroke-width="1.0" stroke-dasharray="1 1.1"/>
<text x="376.31" y="448.40" font-size="12.8" text-anchor="middle" font-weight="bold" fill="#000">Par j 2</text>
<line x1="312.30" y1="467.20" x2="312.30" y2="554.20" stroke="#333" stroke-width="1.4"/>
<line x1="308.70" y1="553.60" x2="440.91" y2="553.60" stroke="#333" stroke-width="1.4"/>
<line x1="308.70" y1="553.60" x2="312.30" y2="553.60" stroke="#333" stroke-width="1.3"/>
<line x1="309.80" y1="532.15" x2="312.30" y2="532.15" stroke="#333" stroke-width="1.3"/>
<line x1="308.70" y1="510.70" x2="312.30" y2="510.70" stroke="#333" stroke-width="1.3"/>
<line x1="309.80" y1="489.25" x2="312.30" y2="489.25" stroke="#333" stroke-width="1.3"/>
<line x1="308.70" y1="467.80" x2="312.30" y2="467.80" stroke="#333" stroke-width="1.3"/>
<text x="307.70" y="558.20" font-size="12.8" text-anchor="end" fill="#000">0.0</text>
<text x="307.70" y="515.30" font-size="12.8" text-anchor="end" fill="#000">0.5</text>
<text x="307.70" y="472.40" font-size="12.8" text-anchor="end" fill="#000">1.0</text>
<line x1="312.30" y1="553.60" x2="312.30" y2="557.20" stroke="#333" stroke-width="1.3"/>
<text x="312.30" y="569.80" font-size="12.8" text-anchor="middle" fill="#000">0.0001</text>
<line x1="354.97" y1="553.60" x2="354.97" y2="557.20" stroke="#333" stroke-width="1.3"/>
<text x="354.97" y="569.80" font-size="12.8" text-anchor="middle" fill="#000">0.001</text>
<line x1="397.64" y1="553.60" x2="397.64" y2="557.20" stroke="#333" stroke-width="1.3"/>
<text x="397.64" y="569.80" font-size="12.8" text-anchor="middle" fill="#000">0.01</text>
<line x1="440.31" y1="553.60" x2="440.31" y2="557.20" stroke="#333" stroke-width="1.3"/>
<text x="440.31" y="569.80" font-size="12.8" text-anchor="middle" fill="#000">0.1</text>
<text x="376.31" y="586.90" font-size="13.0" text-anchor="middle" fill="#000">Mouse serum dilution factor</text>
<text x="0.00" y="0.00" transform="translate(255.10,505.40) rotate(-90)" font-size="13.1" text-anchor="middle" fill="#000">Relative</text>
<text x="0.00" y="0.00" transform="translate(269.10,505.40) rotate(-90)" font-size="13.1" text-anchor="middle" fill="#000">β-hexosaminidase</text>
<text x="0.00" y="0.00" transform="translate(283.70,505.40) rotate(-90)" font-size="13.1" text-anchor="middle" fill="#000">release</text>
<g opacity="1.0">
<polyline points="312.30,481.01 354.97,479.64 397.64,501.52 440.31,541.33" fill="none" stroke="#FF0A6A" stroke-width="1.35"/>
<rect x="310.50" y="479.21" width="3.6" height="3.6" fill="#FF0A6A"/>
<rect x="353.17" y="477.84" width="3.6" height="3.6" fill="#FF0A6A"/>
<rect x="395.84" y="499.72" width="3.6" height="3.6" fill="#FF0A6A"/>
<rect x="438.51" y="539.53" width="3.6" height="3.6" fill="#FF0A6A"/>
</g>
<g opacity="0.85">
<polyline points="312.30,479.64 354.97,486.59 397.64,499.98 440.31,540.90" fill="none" stroke="#1B9CB6" stroke-width="1.35"/>
<circle cx="312.30" cy="479.64" r="1.9" fill="#1B9CB6"/>
<circle cx="354.97" cy="486.59" r="1.9" fill="#1B9CB6"/>
<circle cx="397.64" cy="499.98" r="1.9" fill="#1B9CB6"/>
<circle cx="440.31" cy="540.90" r="1.9" fill="#1B9CB6"/>
</g>
<polyline style="mix-blend-mode:multiply" points="312.30,479.81 313.92,479.83 315.54,479.84 317.16,479.86 318.78,479.88 320.40,479.90 322.02,479.93 323.64,479.95 325.26,479.98 326.88,480.01 328.50,480.05 330.12,480.09 331.74,480.13 333.36,480.18 334.99,480.23 336.61,480.29 338.23,480.35 339.85,480.42 341.47,480.50 343.09,480.58 344.71,480.68 346.33,480.78 347.95,480.89 349.57,481.02 351.19,481.15 352.81,481.30 354.43,481.47 356.05,481.65 357.67,481.85 359.29,482.07 360.91,482.31 362.53,482.57 364.15,482.86 365.77,483.17 367.39,483.52 369.01,483.89 370.63,484.30 372.25,484.75 373.87,485.23 375.49,485.76 377.12,486.34 378.74,486.96 380.36,487.64 381.98,488.36 383.60,489.15 385.22,490.00 386.84,490.90 388.46,491.88 390.08,492.92 391.70,494.03 393.32,495.21 394.94,496.45 396.56,497.77 398.18,499.16 399.80,500.61 401.42,502.13 403.04,503.71 404.66,505.35 406.28,507.03 407.90,508.77 409.52,510.54 411.14,512.34 412.76,514.17 414.38,516.01 416.00,517.86 417.62,519.70 419.25,521.53 420.87,523.34 422.49,525.12 424.11,526.87 425.73,528.57 427.35,530.22 428.97,531.82 430.59,533.35 432.21,534.82 433.83,536.23 435.45,537.57 437.07,538.83 438.69,540.03 440.31,541.16" fill="none" stroke="#FF0A6A" stroke-width="1.0" stroke-dasharray="1 1.1"/>
<polyline style="mix-blend-mode:multiply" points="312.30,479.81 313.92,479.83 315.54,479.84 317.16,479.86 318.78,479.88 320.40,479.90 322.02,479.93 323.64,479.95 325.26,479.98 326.88,480.01 328.50,480.05 330.12,480.09 331.74,480.13 333.36,480.18 334.99,480.23 336.61,480.29 338.23,480.35 339.85,480.42 341.47,480.50 343.09,480.58 344.71,480.68 346.33,480.78 347.95,480.89 349.57,481.02 351.19,481.15 352.81,481.30 354.43,481.47 356.05,481.65 357.67,481.85 359.29,482.07 360.91,482.31 362.53,482.57 364.15,482.86 365.77,483.17 367.39,483.52 369.01,483.89 370.63,484.30 372.25,484.75 373.87,485.23 375.49,485.76 377.12,486.34 378.74,486.96 380.36,487.64 381.98,488.36 383.60,489.15 385.22,490.00 386.84,490.90 388.46,491.88 390.08,492.92 391.70,494.03 393.32,495.21 394.94,496.45 396.56,497.77 398.18,499.16 399.80,500.61 401.42,502.13 403.04,503.71 404.66,505.35 406.28,507.03 407.90,508.77 409.52,510.54 411.14,512.34 412.76,514.17 414.38,516.01 416.00,517.86 417.62,519.70 419.25,521.53 420.87,523.34 422.49,525.12 424.11,526.87 425.73,528.57 427.35,530.22 428.97,531.82 430.59,533.35 432.21,534.82 433.83,536.23 435.45,537.57 437.07,538.83 438.69,540.03 440.31,541.16" fill="none" stroke="#1B9CB6" stroke-width="1.0" stroke-dasharray="1 1.1"/>
<text x="604.50" y="448.70" font-size="12.8" text-anchor="middle" font-weight="bold" fill="#000">Tri a 14</text>
<line x1="540.60" y1="467.50" x2="540.60" y2="554.20" stroke="#333" stroke-width="1.4"/>
<line x1="537.00" y1="553.60" x2="669.00" y2="553.60" stroke="#333" stroke-width="1.4"/>
<line x1="537.00" y1="553.60" x2="540.60" y2="553.60" stroke="#333" stroke-width="1.3"/>
<line x1="538.10" y1="532.23" x2="540.60" y2="532.23" stroke="#333" stroke-width="1.3"/>
<line x1="537.00" y1="510.85" x2="540.60" y2="510.85" stroke="#333" stroke-width="1.3"/>
<line x1="538.10" y1="489.48" x2="540.60" y2="489.48" stroke="#333" stroke-width="1.3"/>
<line x1="537.00" y1="468.10" x2="540.60" y2="468.10" stroke="#333" stroke-width="1.3"/>
<text x="536.00" y="558.20" font-size="12.8" text-anchor="end" fill="#000">0.0</text>
<text x="536.00" y="515.45" font-size="12.8" text-anchor="end" fill="#000">0.5</text>
<text x="536.00" y="472.70" font-size="12.8" text-anchor="end" fill="#000">1.0</text>
<line x1="540.60" y1="553.60" x2="540.60" y2="557.20" stroke="#333" stroke-width="1.3"/>
<text x="540.60" y="569.80" font-size="12.8" text-anchor="middle" fill="#000">0.0001</text>
<line x1="583.20" y1="553.60" x2="583.20" y2="557.20" stroke="#333" stroke-width="1.3"/>
<text x="583.20" y="569.80" font-size="12.8" text-anchor="middle" fill="#000">0.001</text>
<line x1="625.80" y1="553.60" x2="625.80" y2="557.20" stroke="#333" stroke-width="1.3"/>
<text x="625.80" y="569.80" font-size="12.8" text-anchor="middle" fill="#000">0.01</text>
<line x1="668.40" y1="553.60" x2="668.40" y2="557.20" stroke="#333" stroke-width="1.3"/>
<text x="668.40" y="569.80" font-size="12.8" text-anchor="middle" fill="#000">0.1</text>
<text x="604.50" y="586.90" font-size="13.0" text-anchor="middle" fill="#000">Mouse serum dilution factor</text>
<text x="0.00" y="0.00" transform="translate(483.40,505.55) rotate(-90)" font-size="13.1" text-anchor="middle" fill="#000">Relative</text>
<text x="0.00" y="0.00" transform="translate(497.40,505.55) rotate(-90)" font-size="13.1" text-anchor="middle" fill="#000">β-hexosaminidase</text>
<text x="0.00" y="0.00" transform="translate(512.00,505.55) rotate(-90)" font-size="13.1" text-anchor="middle" fill="#000">release</text>
<g opacity="1.0">
<polyline points="540.60,479.04 583.20,486.57 625.80,485.80 668.40,531.88" fill="none" stroke="#FF0A6A" stroke-width="1.35"/>
<rect x="538.80" y="477.24" width="3.6" height="3.6" fill="#FF0A6A"/>
<rect x="581.40" y="484.77" width="3.6" height="3.6" fill="#FF0A6A"/>
<rect x="624.00" y="484.00" width="3.6" height="3.6" fill="#FF0A6A"/>
<rect x="666.60" y="530.08" width="3.6" height="3.6" fill="#FF0A6A"/>
</g>
<g opacity="0.85">
<polyline points="540.60,482.12 583.20,495.63 625.80,549.92 668.40,553.60" fill="none" stroke="#1B9CB6" stroke-width="1.35"/>
<circle cx="540.60" cy="482.12" r="1.9" fill="#1B9CB6"/>
<circle cx="583.20" cy="495.63" r="1.9" fill="#1B9CB6"/>
<circle cx="625.80" cy="549.92" r="1.9" fill="#1B9CB6"/>
<circle cx="668.40" cy="553.60" r="1.9" fill="#1B9CB6"/>
</g>
<polyline style="mix-blend-mode:multiply" points="540.60,479.64 542.22,479.65 543.84,479.66 545.45,479.67 547.07,479.68 548.69,479.69 550.31,479.70 551.92,479.72 553.54,479.73 555.16,479.75 556.78,479.77 558.39,479.79 560.01,479.81 561.63,479.83 563.25,479.86 564.87,479.89 566.48,479.91 568.10,479.95 569.72,479.98 571.34,480.02 572.95,480.06 574.57,480.10 576.19,480.14 577.81,480.19 579.43,480.25 581.04,480.31 582.66,480.37 584.28,480.44 585.90,480.51 587.51,480.59 589.13,480.68 590.75,480.77 592.37,480.87 593.98,480.98 595.60,481.09 597.22,481.22 598.84,481.36 600.46,481.50 602.07,481.66 603.69,481.83 605.31,482.02 606.93,482.22 608.54,482.44 610.16,482.67 611.78,482.92 613.40,483.20 615.02,483.49 616.63,483.81 618.25,484.16 619.87,484.53 621.49,484.93 623.10,485.37 624.72,485.84 626.34,486.35 627.96,486.89 629.57,487.49 631.19,488.13 632.81,488.82 634.43,489.57 636.05,490.38 637.66,491.25 639.28,492.19 640.90,493.21 642.52,494.31 644.13,495.50 645.75,496.79 647.37,498.18 648.99,499.68 650.61,501.30 652.22,503.05 653.84,504.94 655.46,506.98 657.08,509.19 658.69,511.58 660.31,514.16 661.93,516.94 663.55,519.95 665.16,523.20 666.78,526.71 668.40,530.51" fill="none" stroke="#FF0A6A" stroke-width="1.0" stroke-dasharray="1 1.1"/>
<polyline style="mix-blend-mode:multiply" points="540.60,480.93 542.22,481.10 543.84,481.29 545.45,481.50 547.07,481.73 548.69,481.99 550.31,482.27 551.92,482.58 553.54,482.93 555.16,483.31 556.78,483.73 558.39,484.19 560.01,484.69 561.63,485.24 563.25,485.85 564.87,486.51 566.48,487.22 568.10,488.01 569.72,488.85 571.34,489.77 572.95,490.76 574.57,491.83 576.19,492.98 577.81,494.20 579.43,495.51 581.04,496.90 582.66,498.37 584.28,499.92 585.90,501.55 587.51,503.25 589.13,505.01 590.75,506.84 592.37,508.71 593.98,510.64 595.60,512.59 597.22,514.57 598.84,516.56 600.46,518.56 602.07,520.54 603.69,522.51 605.31,524.44 606.93,526.33 608.54,528.18 610.16,529.96 611.78,531.68 613.40,533.33 615.02,534.90 616.63,536.40 618.25,537.81 619.87,539.14 621.49,540.39 623.10,541.56 624.72,542.66 626.34,543.67 627.96,544.61 629.57,545.48 631.19,546.28 632.81,547.02 634.43,547.69 636.05,548.31 637.66,548.88 639.28,549.40 640.90,549.87 642.52,550.30 644.13,550.69 645.75,551.05 647.37,551.37 648.99,551.66 650.61,551.93 652.22,552.17 653.84,552.39 655.46,552.58 657.08,552.76 658.69,552.92 660.31,553.06 661.93,553.19 663.55,553.31 665.16,553.42 666.78,553.51 668.40,553.60" fill="none" stroke="#1B9CB6" stroke-width="1.0" stroke-dasharray="1 1.1"/>
<text x="131.95" y="623.90" font-size="12.8" text-anchor="middle" font-weight="bold" fill="#000">Pla a 3</text>
<line x1="67.60" y1="642.70" x2="67.60" y2="729.50" stroke="#333" stroke-width="1.4"/>
<line x1="64.00" y1="728.90" x2="196.90" y2="728.90" stroke="#333" stroke-width="1.4"/>
<line x1="64.00" y1="728.90" x2="67.60" y2="728.90" stroke="#333" stroke-width="1.3"/>
<line x1="65.10" y1="707.50" x2="67.60" y2="707.50" stroke="#333" stroke-width="1.3"/>
<line x1="64.00" y1="686.10" x2="67.60" y2="686.10" stroke="#333" stroke-width="1.3"/>
<line x1="65.10" y1="664.70" x2="67.60" y2="664.70" stroke="#333" stroke-width="1.3"/>
<line x1="64.00" y1="643.30" x2="67.60" y2="643.30" stroke="#333" stroke-width="1.3"/>
<text x="63.00" y="733.50" font-size="12.8" text-anchor="end" fill="#000">0.0</text>
<text x="63.00" y="690.70" font-size="12.8" text-anchor="end" fill="#000">0.5</text>
<text x="63.00" y="647.90" font-size="12.8" text-anchor="end" fill="#000">1.0</text>
<line x1="67.60" y1="728.90" x2="67.60" y2="732.50" stroke="#333" stroke-width="1.3"/>
<text x="67.60" y="745.10" font-size="12.8" text-anchor="middle" fill="#000">0.0001</text>
<line x1="110.50" y1="728.90" x2="110.50" y2="732.50" stroke="#333" stroke-width="1.3"/>
<text x="110.50" y="745.10" font-size="12.8" text-anchor="middle" fill="#000">0.001</text>
<line x1="153.40" y1="728.90" x2="153.40" y2="732.50" stroke="#333" stroke-width="1.3"/>
<text x="153.40" y="745.10" font-size="12.8" text-anchor="middle" fill="#000">0.01</text>
<line x1="196.30" y1="728.90" x2="196.30" y2="732.50" stroke="#333" stroke-width="1.3"/>
<text x="196.30" y="745.10" font-size="12.8" text-anchor="middle" fill="#000">0.1</text>
<text x="131.95" y="762.20" font-size="13.0" text-anchor="middle" fill="#000">Mouse serum dilution factor</text>
<text x="0.00" y="0.00" transform="translate(10.40,681.80) rotate(-90)" font-size="13.1" text-anchor="middle" fill="#000">Relative</text>
<text x="0.00" y="0.00" transform="translate(24.40,681.80) rotate(-90)" font-size="13.1" text-anchor="middle" fill="#000">β-hexosaminidase</text>
<text x="0.00" y="0.00" transform="translate(39.00,681.80) rotate(-90)" font-size="13.1" text-anchor="middle" fill="#000">release</text>
<g opacity="1.0">
<polyline points="67.60,654.43 110.50,677.54 153.40,672.23 196.30,680.79" fill="none" stroke="#FF0A6A" stroke-width="1.35"/>
<line x1="110.50" y1="690.21" x2="110.50" y2="664.19" stroke="#FF0A6A" stroke-width="1"/>
<line x1="108.30" y1="690.21" x2="112.70" y2="690.21" stroke="#FF0A6A" stroke-width="1"/>
<line x1="108.30" y1="664.19" x2="112.70" y2="664.19" stroke="#FF0A6A" stroke-width="1"/>
<rect x="65.80" y="652.63" width="3.6" height="3.6" fill="#FF0A6A"/>
<rect x="108.70" y="675.74" width="3.6" height="3.6" fill="#FF0A6A"/>
<rect x="151.60" y="670.43" width="3.6" height="3.6" fill="#FF0A6A"/>
<rect x="194.50" y="678.99" width="3.6" height="3.6" fill="#FF0A6A"/>
</g>
<g opacity="0.85">
<polyline points="67.60,654.00 110.50,657.85 153.40,673.00 196.30,706.13" fill="none" stroke="#1B9CB6" stroke-width="1.35"/>
<line x1="196.30" y1="707.93" x2="196.30" y2="704.08" stroke="#1B9CB6" stroke-width="1"/>
<line x1="194.10" y1="707.93" x2="198.50" y2="707.93" stroke="#1B9CB6" stroke-width="1"/>
<line x1="194.10" y1="704.08" x2="198.50" y2="704.08" stroke="#1B9CB6" stroke-width="1"/>
<circle cx="67.60" cy="654.00" r="1.9" fill="#1B9CB6"/>
<circle cx="110.50" cy="657.85" r="1.9" fill="#1B9CB6"/>
<circle cx="153.40" cy="673.00" r="1.9" fill="#1B9CB6"/>
<circle cx="196.30" cy="706.13" r="1.9" fill="#1B9CB6"/>
</g>
<polyline style="mix-blend-mode:multiply" points="67.60,659.56 69.23,659.98 70.86,660.41 72.49,660.84 74.12,661.27 75.75,661.71 77.37,662.16 79.00,662.60 80.63,663.05 82.26,663.50 83.89,663.94 85.52,664.39 87.15,664.84 88.78,665.28 90.41,665.72 92.04,666.16 93.67,666.60 95.29,667.03 96.92,667.45 98.55,667.87 100.18,668.28 101.81,668.68 103.44,669.08 105.07,669.46 106.70,669.84 108.33,670.21 109.96,670.57 111.59,670.93 113.22,671.27 114.84,671.60 116.47,671.92 118.10,672.23 119.73,672.53 121.36,672.82 122.99,673.10 124.62,673.38 126.25,673.64 127.88,673.89 129.51,674.13 131.14,674.36 132.76,674.58 134.39,674.80 136.02,675.00 137.65,675.20 139.28,675.38 140.91,675.56 142.54,675.73 144.17,675.90 145.80,676.05 147.43,676.20 149.06,676.34 150.68,676.47 152.31,676.60 153.94,676.72 155.57,676.84 157.20,676.95 158.83,677.05 160.46,677.15 162.09,677.25 163.72,677.34 165.35,677.42 166.98,677.50 168.61,677.58 170.23,677.65 171.86,677.72 173.49,677.78 175.12,677.84 176.75,677.90 178.38,677.96 180.01,678.01 181.64,678.06 183.27,678.10 184.90,678.15 186.53,678.19 188.15,678.23 189.78,678.27 191.41,678.30 193.04,678.34 194.67,678.37 196.30,678.40" fill="none" stroke="#FF0A6A" stroke-width="1.0" stroke-dasharray="1 1.1"/>
<polyline style="mix-blend-mode:multiply" points="67.60,653.57 69.23,653.60 70.86,653.64 72.49,653.67 74.12,653.71 75.75,653.76 77.37,653.80 79.00,653.85 80.63,653.91 82.26,653.97 83.89,654.03 85.52,654.10 87.15,654.17 88.78,654.25 90.41,654.34 92.04,654.43 93.67,654.53 95.29,654.64 96.92,654.75 98.55,654.88 100.18,655.01 101.81,655.16 103.44,655.31 105.07,655.48 106.70,655.66 108.33,655.86 109.96,656.07 111.59,656.29 113.22,656.53 114.84,656.79 116.47,657.07 118.10,657.37 119.73,657.69 121.36,658.04 122.99,658.41 124.62,658.80 126.25,659.22 127.88,659.67 129.51,660.15 131.14,660.67 132.76,661.21 134.39,661.79 136.02,662.41 137.65,663.06 139.28,663.76 140.91,664.49 142.54,665.26 144.17,666.08 145.80,666.94 147.43,667.85 149.06,668.80 150.68,669.79 152.31,670.83 153.94,671.91 155.57,673.04 157.20,674.21 158.83,675.42 160.46,676.68 162.09,677.97 163.72,679.29 165.35,680.65 166.98,682.04 168.61,683.45 170.23,684.89 171.86,686.35 173.49,687.82 175.12,689.30 176.75,690.78 178.38,692.27 180.01,693.76 181.64,695.23 183.27,696.70 184.90,698.14 186.53,699.57 188.15,700.97 189.78,702.35 191.41,703.69 193.04,705.00 194.67,706.27 196.30,707.50" fill="none" stroke="#1B9CB6" stroke-width="1.0" stroke-dasharray="1 1.1"/>
<line x1="394.60" y1="639.00" x2="394.60" y2="738.90" stroke="#333" stroke-width="1.4"/>
<line x1="394.60" y1="738.30" x2="636.90" y2="738.30" stroke="#333" stroke-width="1.4"/>
<line x1="389.60" y1="639.60" x2="394.60" y2="639.60" stroke="#333" stroke-width="1.4"/>
<text x="388.60" y="644.90" font-size="14.8" text-anchor="end" fill="#000">10</text>
<line x1="389.60" y1="656.05" x2="394.60" y2="656.05" stroke="#333" stroke-width="1.4"/>
<text x="388.60" y="661.35" font-size="14.8" text-anchor="end" fill="#000">1</text>
<line x1="389.60" y1="672.50" x2="394.60" y2="672.50" stroke="#333" stroke-width="1.4"/>
<text x="388.60" y="677.80" font-size="14.8" text-anchor="end" fill="#000">0.1</text>
<line x1="389.60" y1="688.95" x2="394.60" y2="688.95" stroke="#333" stroke-width="1.4"/>
<text x="388.60" y="694.25" font-size="14.8" text-anchor="end" fill="#000">0.01</text>
<line x1="389.60" y1="705.40" x2="394.60" y2="705.40" stroke="#333" stroke-width="1.4"/>
<text x="388.60" y="710.70" font-size="14.8" text-anchor="end" fill="#000">0.001</text>
<line x1="389.60" y1="721.85" x2="394.60" y2="721.85" stroke="#333" stroke-width="1.4"/>
<text x="388.60" y="727.15" font-size="14.8" text-anchor="end" fill="#000">0.0001</text>
<line x1="389.60" y1="738.30" x2="394.60" y2="738.30" stroke="#333" stroke-width="1.4"/>
<text x="388.60" y="743.60" font-size="14.8" text-anchor="end" fill="#000">0.00001</text>
<text x="0.00" y="0.00" transform="translate(308.40,685.00) rotate(-90)" font-size="15.2" text-anchor="middle" fill="#000">IC<tspan font-size="11.5" dy="3.6">50</tspan><tspan dy="-3.6"> values</tspan></text>
<text x="0.00" y="0.00" transform="translate(328.80,684.00) rotate(-90)" font-size="14.8" text-anchor="middle" fill="#000">(mouse serum dilution)</text>
<rect x="400.90" y="697.70" width="9.20" height="39.70" fill="#88CDDB" stroke="#1A9AB5" stroke-width="1.8"/>
<line x1="403.10" y1="696.70" x2="407.90" y2="696.70" stroke="#1A9AB5" stroke-width="1.1"/>
<circle cx="405.50" cy="697.90" r="2.3" fill="#1A9AB5"/>
<rect x="412.80" y="684.30" width="9.20" height="53.10" fill="#FF82B4" stroke="#FF0066" stroke-width="1.8"/>
<line x1="415.00" y1="683.30" x2="419.80" y2="683.30" stroke="#FF0066" stroke-width="1.1"/>
<rect x="415.10" y="682.40" width="4.6" height="4.2" fill="#FF0066"/>
<text x="0.00" y="0.00" transform="translate(415.05,754.10) rotate(-45)" font-size="15.0" text-anchor="end" fill="#000">cnsLTP1</text>
<rect x="435.50" y="691.60" width="9.20" height="45.80" fill="#88CDDB" stroke="#1A9AB5" stroke-width="1.8"/>
<line x1="437.70" y1="690.60" x2="442.50" y2="690.60" stroke="#1A9AB5" stroke-width="1.1"/>
<circle cx="440.10" cy="691.80" r="2.3" fill="#1A9AB5"/>
<rect x="447.40" y="679.00" width="9.20" height="58.40" fill="#FF82B4" stroke="#FF0066" stroke-width="1.8"/>
<line x1="449.60" y1="678.00" x2="454.40" y2="678.00" stroke="#FF0066" stroke-width="1.1"/>
<rect x="449.70" y="677.10" width="4.6" height="4.2" fill="#FF0066"/>
<text x="0.00" y="0.00" transform="translate(449.65,754.10) rotate(-45)" font-size="15.0" text-anchor="end" fill="#000">Pru p 3</text>
<rect x="470.10" y="697.40" width="9.20" height="40.00" fill="#88CDDB" stroke="#1A9AB5" stroke-width="1.8"/>
<line x1="472.30" y1="696.40" x2="477.10" y2="696.40" stroke="#1A9AB5" stroke-width="1.1"/>
<circle cx="474.70" cy="697.60" r="2.3" fill="#1A9AB5"/>
<rect x="482.00" y="696.00" width="9.20" height="41.40" fill="#FF82B4" stroke="#FF0066" stroke-width="1.8"/>
<line x1="484.20" y1="695.00" x2="489.00" y2="695.00" stroke="#FF0066" stroke-width="1.1"/>
<rect x="484.30" y="694.10" width="4.6" height="4.2" fill="#FF0066"/>
<text x="0.00" y="0.00" transform="translate(484.25,754.10) rotate(-45)" font-size="15.0" text-anchor="end" fill="#000">Cor a 8</text>
<rect x="504.70" y="696.10" width="9.20" height="41.30" fill="#88CDDB" stroke="#1A9AB5" stroke-width="1.8"/>
<line x1="506.90" y1="695.10" x2="511.70" y2="695.10" stroke="#1A9AB5" stroke-width="1.1"/>
<circle cx="509.30" cy="696.30" r="2.3" fill="#1A9AB5"/>
<rect x="516.60" y="687.40" width="9.20" height="50.00" fill="#FF82B4" stroke="#FF0066" stroke-width="1.8"/>
<line x1="518.80" y1="686.40" x2="523.60" y2="686.40" stroke="#FF0066" stroke-width="1.1"/>
<rect x="518.90" y="685.50" width="4.6" height="4.2" fill="#FF0066"/>
<text x="0.00" y="0.00" transform="translate(518.85,754.10) rotate(-45)" font-size="15.0" text-anchor="end" fill="#000">Ara h 9</text>
<rect x="539.30" y="682.10" width="9.20" height="55.30" fill="#88CDDB" stroke="#1A9AB5" stroke-width="1.8"/>
<line x1="541.50" y1="681.10" x2="546.30" y2="681.10" stroke="#1A9AB5" stroke-width="1.1"/>
<circle cx="543.90" cy="682.30" r="2.3" fill="#1A9AB5"/>
<rect x="551.20" y="682.10" width="9.20" height="55.30" fill="#FF82B4" stroke="#FF0066" stroke-width="1.8"/>
<line x1="553.40" y1="681.10" x2="558.20" y2="681.10" stroke="#FF0066" stroke-width="1.1"/>
<rect x="553.50" y="680.20" width="4.6" height="4.2" fill="#FF0066"/>
<text x="0.00" y="0.00" transform="translate(553.45,754.10) rotate(-45)" font-size="15.0" text-anchor="end" fill="#000">Par j 2</text>
<rect x="573.90" y="698.80" width="9.20" height="38.60" fill="#88CDDB" stroke="#1A9AB5" stroke-width="1.8"/>
<line x1="576.10" y1="697.80" x2="580.90" y2="697.80" stroke="#1A9AB5" stroke-width="1.1"/>
<circle cx="578.50" cy="699.00" r="2.3" fill="#1A9AB5"/>
<rect x="585.80" y="652.90" width="9.20" height="84.50" fill="#FF82B4" stroke="#FF0066" stroke-width="1.8"/>
<line x1="588.00" y1="651.90" x2="592.80" y2="651.90" stroke="#FF0066" stroke-width="1.1"/>
<rect x="588.10" y="651.00" width="4.6" height="4.2" fill="#FF0066"/>
<text x="0.00" y="0.00" transform="translate(588.05,754.10) rotate(-45)" font-size="15.0" text-anchor="end" fill="#000">Tri a 14</text>
<rect x="608.50" y="684.20" width="9.20" height="53.20" fill="#88CDDB" stroke="#1A9AB5" stroke-width="1.8"/>
<line x1="610.70" y1="683.20" x2="615.50" y2="683.20" stroke="#1A9AB5" stroke-width="1.1"/>
<circle cx="613.10" cy="684.40" r="2.3" fill="#1A9AB5"/>
<rect x="620.40" y="713.70" width="9.20" height="23.70" fill="#FF82B4" stroke="#FF0066" stroke-width="1.8"/>
<line x1="622.60" y1="712.70" x2="627.40" y2="712.70" stroke="#FF0066" stroke-width="1.1"/>
<rect x="622.70" y="711.80" width="4.6" height="4.2" fill="#FF0066"/>
<text x="0.00" y="0.00" transform="translate(622.65,754.10) rotate(-45)" font-size="15.0" text-anchor="end" fill="#000">Pla a 3</text>
<line x1="578.50" y1="695.00" x2="578.50" y2="704.60" stroke="#1A9AB5" stroke-width="1.1"/>
<line x1="576.00" y1="695.00" x2="581.00" y2="695.00" stroke="#1A9AB5" stroke-width="1.1"/>
<line x1="576.00" y1="704.60" x2="581.00" y2="704.60" stroke="#1A9AB5" stroke-width="1.1"/>
<line x1="625.00" y1="708.20" x2="625.00" y2="730.40" stroke="#FF0066" stroke-width="1.1"/>
<line x1="622.50" y1="708.20" x2="627.50" y2="708.20" stroke="#FF0066" stroke-width="1.1"/>
<line x1="622.50" y1="730.40" x2="627.50" y2="730.40" stroke="#FF0066" stroke-width="1.1"/>
<text x="584.20" y="633.60" font-size="17.5" text-anchor="middle" fill="#000" letter-spacing="1.1">***</text>
<line x1="576.20" y1="631.40" x2="592.00" y2="631.40" stroke="#444" stroke-width="1.0"/>
<circle cx="435.9" cy="643.7" r="2.3" fill="#1A9AB5"/>
<rect x="433.8" y="658.6" width="4.2" height="4.2" fill="#FF0066"/>
<text x="447.50" y="648.60" font-size="15" text-anchor="start" fill="#000">cnsLTP1-mRNA</text>
<text x="447.50" y="665.50" font-size="15" text-anchor="start" fill="#000">cnsLTP1-protein</text>
<text x="515.20" y="810.00" font-size="14.8" text-anchor="middle" fill="#000">Allergens</text>
</svg></body></html>
